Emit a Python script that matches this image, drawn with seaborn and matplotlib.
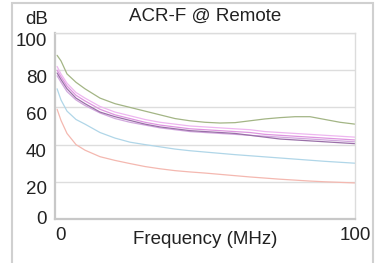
"""ACR-F @ Remote chart."""

import matplotlib

matplotlib.use("Agg", force=True)

import matplotlib.pyplot as plt
import matplotlib.transforms as mtransforms
from matplotlib.patches import Rectangle
import pandas as pd
import seaborn as sns

freq = [0.7, 2, 4, 7, 10, 15, 20, 25, 30, 35, 40, 45, 50, 55, 60,
        65, 70, 75, 80, 85, 90, 95, 100]

green = [88, 85, 78, 73.5, 70, 65, 62, 60, 58, 56, 54, 52.8, 52, 51.6, 51.8,
         52.8, 53.8, 54.5, 55, 55, 53.5, 52, 51]
pink_a = [82, 78, 73, 68, 65, 60.5, 57.5, 55.5, 53.5, 52, 51, 50, 49.5, 49, 48.5,
          48, 47, 46.5, 46, 45.5, 45, 44.5, 44]
pink_b = [80, 76.5, 71.5, 66.5, 63.5, 59, 56, 54, 52, 50.5, 49.5, 48.5, 48, 47.5, 47,
          46.5, 45.5, 45, 44.5, 44, 43.5, 43, 42.5]
purple = [78.5, 75, 70, 65, 62, 57.5, 55, 53, 51, 49.5, 48.5, 47.5, 47, 46.5, 46,
          45, 44, 43, 42.5, 42, 41.5, 41, 40.5]
pink_c = [77, 73.5, 68.5, 64, 61, 57, 54, 52, 50.5, 49, 48, 47, 46.5, 46, 45.5,
          45, 44.5, 44, 43.5, 43, 42.5, 42, 41.5]
blue = [70, 64, 58, 53.5, 51, 46.5, 43.5, 41.3, 40, 38.8, 37.6, 36.7, 36, 35.3, 34.6,
        34, 33.4, 32.8, 32.2, 31.6, 31, 30.5, 30]
red = [59, 53, 46, 40, 37, 33.5, 31.5, 29.8, 28.2, 27, 26, 25.3, 24.7, 24, 23.3,
       22.6, 22, 21.4, 20.9, 20.4, 20, 19.7, 19.4]

series = {
    "green": green,
    "pink_a": pink_a,
    "pink_b": pink_b,
    "pink_c": pink_c,
    "purple": purple,
    "blue": blue,
    "red": red,
}
palette = {
    "green": "#a3b585",
    "pink_a": "#eeb6f0",
    "pink_b": "#de95e0",
    "pink_c": "#d2a8de",
    "purple": "#9a70a8",
    "blue": "#b0d6e8",
    "red": "#f4b8b0",
}

rows = []
for name, values in series.items():
    for f, v in zip(freq, values):
        rows.append({"freq": f, "db": v, "pair": name})
data = pd.DataFrame(rows)

sns.set_style("white")
plt.rcParams["font.family"] = ["Liberation Sans", "DejaVu Sans"]

fig = plt.figure(figsize=(3.83, 2.63), dpi=100)
ax = fig.add_axes([55 / 383, 44 / 263, 300 / 383, 186 / 263])

sns.lineplot(data=data, x="freq", y="db", hue="pair", palette=palette,
             linewidth=0.9, legend=False, ax=ax, sort=False)

ax.set_xlim(0, 100)
ax.set_ylim(0, 100)
ax.set_xticks([0, 100])
ax.set_yticks([0, 20, 40, 60, 80, 100])
ax.tick_params(length=0, labelsize=13.5, colors="#222222", pad=6)
ax.grid(axis="y", color="#dddddd", linewidth=1.0)
ax.set_axisbelow(True)
for side in ["top", "right"]:
    ax.spines[side].set_color("#dcdcdc")
    ax.spines[side].set_linewidth(1.0)
for side in ["left", "bottom"]:
    ax.spines[side].set_color("#c8c8c8")
    ax.spines[side].set_linewidth(1.6)

# nudge tick labels to where the source draws them
for lab in ax.get_yticklabels():
    dy = 2 if lab.get_text() == "0" else -6
    lab.set_transform(lab.get_transform()
                      + mtransforms.ScaledTranslation(0, dy / 100, fig.dpi_scale_trans))
for lab in ax.get_xticklabels():
    dx = 5 if lab.get_text() == "0" else 0
    lab.set_transform(lab.get_transform()
                      + mtransforms.ScaledTranslation(dx / 100, 0, fig.dpi_scale_trans))

ax.set_xlabel("")
ax.set_ylabel("")
fig.text(205 / 383, 1 - 240 / 263, "Frequency (MHz)", ha="center", va="center",
         fontsize=13.5, color="#222222")
fig.text(205 / 383, 1 - 16 / 263, "ACR-F @ Remote", ha="center", va="center",
         fontsize=13.5, color="#222222")
fig.text(48 / 383, 1 - 20 / 263, "dB", ha="right", va="center",
         fontsize=13.5, color="#222222")

fig.patches.append(Rectangle((12 / 383, -0.1), 361 / 383, 1.1 - 3 / 263,
                             transform=fig.transFigure, fill=False,
                             edgecolor="#d0d0d0", linewidth=1.5))

fig.savefig("out.png", dpi=100)
